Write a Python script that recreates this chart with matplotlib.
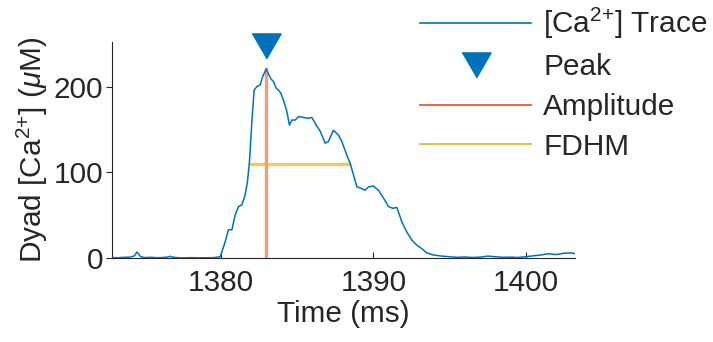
import matplotlib
matplotlib.use("Agg")
import matplotlib.pyplot as plt
from matplotlib.lines import Line2D

plt.rcParams['font.family'] = ['Liberation Sans', 'DejaVu Sans']
plt.rcParams['mathtext.fontset'] = 'custom'
plt.rcParams['mathtext.rm'] = 'Liberation Sans'
plt.rcParams['mathtext.it'] = 'Liberation Sans:italic'

# Dyadic calcium trace (time in ms, concentration in uM)
time_ms = [1372.8, 1373.2, 1373.6, 1374.0, 1374.3, 1374.45, 1374.55, 1374.7,
           1375.0, 1375.4, 1375.8, 1376.2, 1376.5, 1376.65, 1376.8, 1377.2,
           1377.6, 1378.0, 1378.5, 1379.0, 1379.5, 1379.93,
           1380.26, 1380.47, 1380.70, 1380.91, 1381.13, 1381.35, 1381.57,
           1381.72, 1381.85, 1382.01, 1382.16, 1382.34, 1382.56, 1382.73,
           1382.95, 1383.10, 1383.26, 1383.43, 1383.61, 1383.76, 1383.92,
           1384.09, 1384.31, 1384.48, 1384.64, 1384.86, 1385.07, 1385.40,
           1385.73, 1385.95, 1386.28, 1386.50, 1386.83, 1387.04, 1387.37,
           1387.70, 1387.92, 1388.25, 1388.47, 1388.69, 1388.91, 1389.24,
           1389.45, 1389.67, 1390.00, 1390.33, 1390.66, 1390.99, 1391.27,
           1391.54, 1391.87, 1392.19, 1392.52, 1392.85, 1393.18, 1393.51,
           1393.94, 1394.60, 1395.0, 1395.5, 1396.0, 1396.5, 1397.0, 1397.5,
           1398.0, 1398.5, 1399.0, 1399.5, 1400.0, 1400.5, 1401.0, 1401.5,
           1402.0, 1402.5, 1403.0, 1403.25]
ca_um = [0.5, 0.3, 0.8, 1.0, 2.5, 7.0, 5.0, 1.5,
         0.5, 0.8, 0.3, 0.6, 1.2, 2.0, 1.0, 0.3,
         0.2, 0.4, 0.2, 0.3, 0.4, 1.5,
         19, 33, 33, 50, 60, 62, 73.5,
         89, 112, 159, 196, 200, 202, 212,
         220.5, 215, 209, 206, 198, 196, 192,
         184, 171, 155, 161, 161, 165, 164,
         163, 164, 154, 148, 134, 136, 149,
         143.5, 136, 120, 110.5, 97, 83, 81,
         79, 83, 84, 79, 70, 60, 58,
         59, 42, 30.5, 21, 15, 11, 6,
         3.5, 2.0, 1.5, 0.8, 1.2, 0.6, 1.0, 2.2,
         1.5, 0.8, 1.0, 0.6, 1.5, 2.5, 3.5, 5.0,
         4.0, 5.5, 6.0, 5.0]

peak_time = 1382.95
peak_val = 220.5
peak_marker_val = 247.6
fdhm_start = 1381.90
fdhm_end = 1388.42

blue = '#0072BD'
orange = '#D95319'
yellow = '#EDB120'
dark = '#262626'
fs = 21.4

fig = plt.figure(figsize=(7.13, 3.42), dpi=100)
ax = fig.add_axes([0.1567, 0.2456, 0.6498, 0.6325])

ax.plot(time_ms, ca_um, color=blue, lw=1.1, zorder=3)
ax.plot([peak_time, peak_time], [0, peak_val], color=orange, alpha=0.55, lw=2.4, zorder=2)
ax.plot([fdhm_start, fdhm_end], [peak_val / 2, peak_val / 2], color=yellow, alpha=0.7,
        lw=2.4, zorder=2)
tri = [(-14.5, 12.5), (14.5, 12.5), (0, -12.5)]
ax.plot([peak_time], [peak_marker_val], marker=tri, ms=21, color=blue, ls='none',
        clip_on=False, zorder=4)

ax.set_xlim(1372.8, 1403.25)
ax.set_ylim(0, 252.4)
ax.set_xticks([1380, 1390, 1400])
ax.set_yticks([0, 100, 200])
ax.spines['top'].set_visible(False)
ax.spines['right'].set_visible(False)
for s in ('left', 'bottom'):
    ax.spines[s].set_color(dark)
    ax.spines[s].set_linewidth(0.8)
ax.tick_params(axis='x', direction='in', length=4, width=0.8, pad=8,
               labelsize=fs, colors=dark)
ax.tick_params(axis='y', direction='out', length=4, width=0.8, pad=2,
               labelsize=fs, colors=dark)

ax.set_xlabel('Time (ms)', fontsize=fs, color=dark, labelpad=2)
ax.set_ylabel(r'Dyad [Ca$^{2{+}}$] ($\mu$M)', fontsize=fs, color=dark, labelpad=3)

handles = [
    Line2D([], [], color=blue, lw=1.2),
    Line2D([], [], marker=tri, ms=21, color=blue, ls='none'),
    Line2D([], [], color=orange, lw=1.2),
    Line2D([], [], color=yellow, lw=1.2),
]
labels = [r'[Ca$^{2{+}}$] Trace', 'Peak', 'Amplitude', 'FDHM']
fig.legend(handles, labels, loc='upper left', bbox_to_anchor=(414 / 713, 1.0),
           frameon=False, fontsize=fs, handlelength=3.75, handletextpad=0.4,
           labelspacing=0.4, borderpad=0.2, borderaxespad=0, labelcolor=dark)

fig.savefig('out.png', dpi=100)
